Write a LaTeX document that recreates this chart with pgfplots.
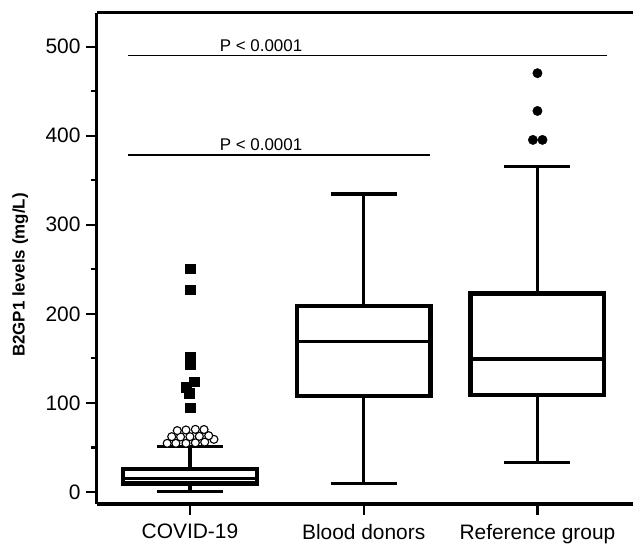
\documentclass[border=0pt]{standalone}
\usepackage{fontspec}
\setmainfont{Liberation Sans}
\usepackage{pgfplots}
\pgfplotsset{compat=1.18}

\begin{document}
\begin{tikzpicture}
\useasboundingbox (-97bp,-40bp) rectangle (536bp,504bp);
\begin{axis}[
    at={(0,0)}, anchor=south west,
    scale only axis,
    width=536bp, height=491.2bp,
    xmin=0.465, xmax=3.55,
    ymin=-13.5, ymax=538,
    axis lines*=left,
    axis line style={line width=3bp, -},
    xtick={1,2,3},
    xticklabels={COVID-19,Blood donors,Reference group},
    ytick={0,100,200,300,400,500},
    minor y tick num=1,
    tick align=outside,
    major tick length=11bp,
    minor tick length=6bp,
    every tick/.style={black, line width=2.2bp},
    /pgf/number format/assume math mode=true,
    yticklabel style={font=\fontsize{21}{25}\selectfont, xshift=-2bp},
    xticklabel style={font=\fontsize{21}{25}\selectfont, yshift=-5.5bp},
    ylabel={B2GP1 levels (mg/L)},
    every axis y label/.style={at={(axis description cs:-0.143,0.466)}, rotate=90, anchor=center,
        font=\bfseries\fontsize{17}{20}\selectfont},
    clip=false,
    box/.style={black, line width=4.3bp, line cap=rect, line join=miter},
    wsk/.style={black, line width=3.3bp},
]
% top frame line
\addplot[black, line width=3bp] coordinates {(0.465,538) (3.55,538)};

% COVID-19: whisker 0.3, Q1 9.5, median 15.5, Q3 26, whisker 51
\addplot[wsk] coordinates {(1,26) (1,51)};
\addplot[wsk] coordinates {(1,0.3) (1,9.5)};
\addplot[wsk] coordinates {(0.81,51) (1.19,51)};
\addplot[wsk] coordinates {(0.81,0.3) (1.19,0.3)};
\addplot[box] coordinates {(0.615,9.5) (1.385,9.5) (1.385,26) (0.615,26) (0.615,9.5)};
\addplot[wsk] coordinates {(0.615,15.5) (1.385,15.5)};

% Blood donors: 9.8, 108, 168.8, 209, 334.6
\addplot[wsk] coordinates {(2,209) (2,334.6)};
\addplot[wsk] coordinates {(2,9.8) (2,108)};
\addplot[wsk] coordinates {(1.81,334.6) (2.19,334.6)};
\addplot[wsk] coordinates {(1.81,9.8) (2.19,9.8)};
\addplot[box] coordinates {(1.615,108) (2.385,108) (2.385,209) (1.615,209) (1.615,108)};
\addplot[wsk] coordinates {(1.615,168.8) (2.385,168.8)};

% Reference group: 33.3, 109, 149.4, 223, 365.3
\addplot[wsk] coordinates {(3,223) (3,365.3)};
\addplot[wsk] coordinates {(3,33.3) (3,109)};
\addplot[wsk] coordinates {(2.81,365.3) (3.19,365.3)};
\addplot[wsk] coordinates {(2.81,33.3) (3.19,33.3)};
\addplot[box] coordinates {(2.615,109) (3.385,109) (3.385,223) (2.615,223) (2.615,109)};
\addplot[wsk] coordinates {(2.615,149.4) (3.385,149.4)};

% COVID-19 outliers: open circles
\addplot[only marks, mark=*, mark size=4bp,
    mark options={fill=white, draw=black, line width=1.1bp}] coordinates {
    (0.869,54.6) (0.919,54.6) (0.977,54.6) (1.031,55.2) (1.085,56.0) (1.138,59.1)
    (0.895,62.1) (0.946,61.8) (1.000,62.1) (1.054,62.5) (1.108,63.2)
    (0.927,68.9) (0.977,69.6) (1.031,70.3) (1.081,70.1)
};
% COVID-19 outliers: filled squares
\addplot[only marks, mark=square*, mark size=4.8bp,
    mark options={fill=black, draw=black, line width=0.2bp}] coordinates {
    (1.000,250.8) (1.000,227.2) (1.000,151.9) (1.000,143.7)
    (1.025,123.9) (0.977,117.6) (0.996,110.8) (1.000,94.7)
};
% Reference group outliers
\addplot[only marks, mark=*, mark size=4.7bp,
    mark options={fill=black, draw=black}] coordinates {
    (3.000,470.2) (3.000,427.8) (2.974,395.3) (3.029,395.3)
};

% significance lines
\addplot[black, line width=1.4bp] coordinates {(0.644,490) (3.399,490)};
\addplot[black, line width=1.4bp] coordinates {(0.644,378.4) (2.382,378.4)};
\node[anchor=base, font=\fontsize{17}{20}\selectfont] at (axis cs:1.409,494.5) {P < 0.0001};
\node[anchor=base, font=\fontsize{17}{20}\selectfont] at (axis cs:1.409,382.9) {P < 0.0001};
\end{axis}
\end{tikzpicture}
\end{document}
